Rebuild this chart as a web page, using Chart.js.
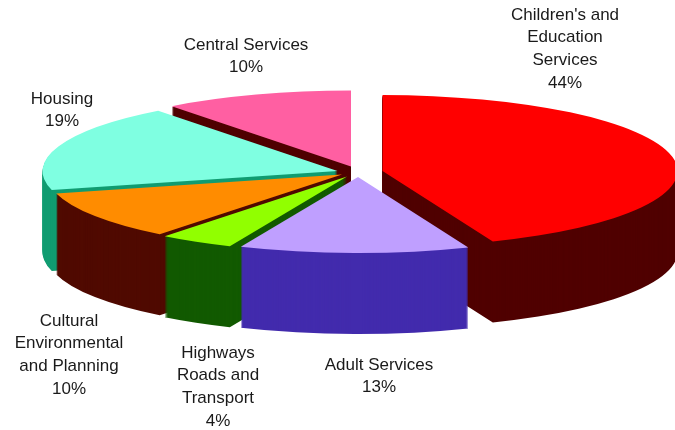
<!DOCTYPE html>
<html>
<head>
<meta charset="utf-8">
<style>html,body{margin:0;padding:0;background:#fff}canvas{display:block}</style>
<script src="https://cdn.jsdelivr.net/npm/chart.js@4"></script>
</head>
<body>
<canvas id="c" width="675" height="430"></canvas>
<script>
const categories = ["Children's and Education Services","Adult Services","Highways Roads and Transport","Cultural Environmental and Planning","Housing","Central Services"];
const values = [43.9,12.6,4.1,10.4,18.6,10.4];
const topColors = ["#FF0000","#BF9FFF","#91FF00","#FF8C00","#7FFFE1","#FF5FA2"];
const wallColors = ["#500000","#422BAD","#125A00","#500A00","#119C71","#500000"];
const labelLines = [["Children's and","Education","Services"],["Adult Services"],["Highways","Roads and","Transport"],["Cultural","Environmental","and Planning"],["Housing"],["Central Services"]];

const sliceShift = [[31.5,0],[7,6],[-4,5.5],[-9,3.5],[-13.5,0],[0,-4.5]];
const paintOrder = [5,4,0,3,2,1];
const labelAnchors = [[565,15],[379,365],[218,353],[69,321],[62,99],[246,45]];
const VIEW = {cx:351, cy:171, rx:295, ry:76, depth:81, lineH:22.7};

function arcOpts(color){
  return {backgroundColor:color,borderColor:color,borderWidth:0,borderAlign:'center',offset:0,spacing:0,circular:true,borderRadius:0,borderDash:[],borderDashOffset:0,borderJoinStyle:'round'};
}
const pie3d = {
  id:'pie3d',
  beforeDatasetsDraw(chart){
    const ctx = chart.ctx, arcs = chart.getDatasetMeta(0).data;
    paintOrder.forEach(i=>{
      const a = arcs[i], saved = a.options;
      const sx = VIEW.rx/a.outerRadius, sy = VIEW.ry/a.outerRadius;
      const [ex,ey] = sliceShift[i];
      const paint = (dy,color)=>{
        ctx.save();
        ctx.translate(VIEW.cx+ex, VIEW.cy+ey+dy);
        ctx.scale(sx,sy);
        ctx.translate(-a.x,-a.y);
        a.options = arcOpts(color);
        a.draw(ctx);
        ctx.restore();
      };
      for(let d=VIEW.depth;d>=1;d--) paint(d,wallColors[i]);
      paint(0,topColors[i]);
      a.options = saved;
    });
    return false;
  },
  afterDraw(chart){
    const ctx = chart.ctx;
    ctx.save();
    ctx.font = '17px "Liberation Sans"';
    ctx.fillStyle = '#1a1a1a';
    ctx.textAlign = 'center';
    ctx.textBaseline = 'middle';
    labelLines.forEach((lines,i)=>{
      const [x,y] = labelAnchors[i];
      lines.concat([Math.round(values[i])+'%']).forEach((t,k)=>ctx.fillText(t,x,y+k*VIEW.lineH));
    });
    ctx.restore();
  }
};
new Chart(document.getElementById('c'),{
  type:'pie',
  data:{labels:categories,datasets:[{data:values,backgroundColor:topColors,borderWidth:0}]},
  options:{responsive:false,animation:false,plugins:{legend:{display:false},tooltip:{enabled:false}},events:[]},
  plugins:[pie3d]
});
</script>
</body>
</html>
